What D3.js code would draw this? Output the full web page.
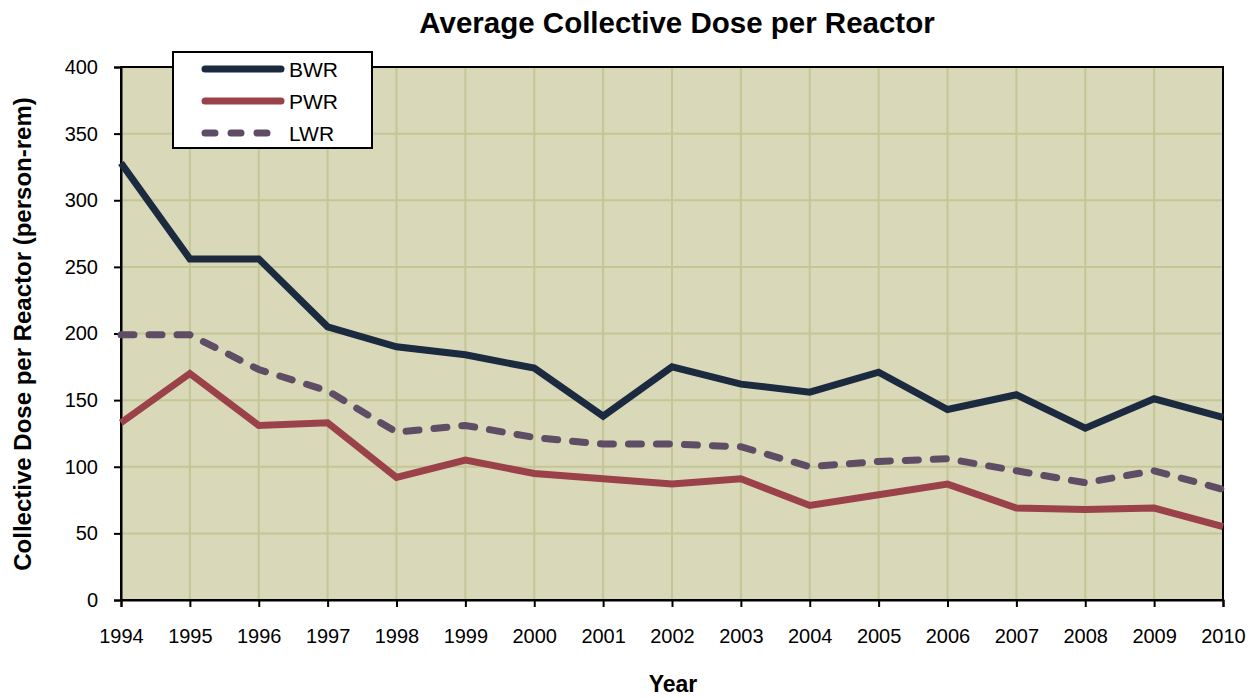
<!DOCTYPE html>
<html>
<head>
<meta charset="utf-8">
<script src="https://cdn.jsdelivr.net/npm/d3@7"></script>
<style>
  body { margin: 0; background: #fff; }
  text { font-family: "Liberation Sans", Arial, sans-serif; fill: #000; }
</style>
</head>
<body>
<svg id="chart"></svg>
<script>
var years = [1994,1995,1996,1997,1998,1999,2000,2001,2002,2003,2004,2005,2006,2007,2008,2009,2010];
var bwr = [328,256,256,205,190,184,174,138,175,162,156,171,143,154,129,151,137];
var pwr = [133,170,131,133,92,105,95,91,87,91,71,79,87,69,68,69,55];
var lwr = [199,199,173,157,126,131,122,117,117,115,100,104,106,97,88,97,83];
var yTicks = [0,50,100,150,200,250,300,350,400];

var series = [
  {name: 'BWR', values: bwr, color: '#1b2a3f', dash: null},
  {name: 'PWR', values: pwr, color: '#9a4149', dash: null},
  {name: 'LWR', values: lwr, color: '#5f4d66', dash: '13,15'}
];

var svg = d3.select('#chart').attr('width', 1256).attr('height', 698);

var mLeft = 121, mRight = 1223, mTop = 67, mBottom = 600;

var x = d3.scaleLinear().domain([1994, 2010]).range([mLeft, mRight]);
var y = d3.scaleLinear().domain([0, 400]).range([mBottom, mTop]);

// plot background
svg.append('rect')
   .attr('x', mLeft).attr('y', mTop)
   .attr('width', mRight - mLeft).attr('height', mBottom - mTop)
   .attr('fill', '#d9d9b9');

// grid
svg.append('g').selectAll('line').data(years.slice(1))
   .join('line')
   .attr('x1', d => x(d)).attr('x2', d => x(d))
   .attr('y1', mTop).attr('y2', mBottom)
   .attr('stroke', '#c3c695').attr('stroke-width', 2);
svg.append('g').selectAll('line').data(yTicks.slice(1))
   .join('line')
   .attr('x1', mLeft).attr('x2', mRight)
   .attr('y1', d => y(d)).attr('y2', d => y(d))
   .attr('stroke', '#c3c695').attr('stroke-width', 2);

// frame
svg.append('rect')
   .attr('x', mLeft).attr('y', mTop)
   .attr('width', mRight - mLeft).attr('height', mBottom - mTop)
   .attr('fill', 'none').attr('stroke', '#000').attr('stroke-width', 2);

var yAxis = d3.axisLeft(y).tickValues(yTicks).tickSize(7).tickPadding(16);
var gy = svg.append('g').attr('transform', 'translate(' + mLeft + ',0)').call(yAxis);
gy.select('.domain').attr('stroke-width', 2);
gy.selectAll('.tick line').attr('stroke-width', 2);
gy.selectAll('text').style('font-size', '20px');

var xAxis = d3.axisBottom(x).tickValues(years).tickFormat(d3.format('d')).tickSize(7).tickPadding(22);
var gx = svg.append('g').attr('transform', 'translate(0,' + mBottom + ')').call(xAxis);
gx.select('.domain').attr('stroke-width', 2);
gx.selectAll('.tick line').attr('stroke-width', 2);
gx.selectAll('text').style('font-size', '20px');

// lines
var line = d3.line().x((d, i) => x(years[i])).y(d => y(d));
svg.append('g').selectAll('path').data(series.slice().reverse())
   .join('path')
   .attr('d', d => line(d.values))
   .attr('fill', 'none')
   .attr('stroke', d => d.color)
   .attr('stroke-width', 7)
   .attr('stroke-dasharray', d => d.dash)
   .attr('stroke-linecap', d => d.dash ? 'round' : 'butt')
   .attr('stroke-linejoin', 'miter');

// titles
svg.append('text')
   .attr('x', 677).attr('y', 33)
   .attr('text-anchor', 'middle')
   .style('font-size', '29.5px').style('font-weight', 'bold')
   .text('Average Collective Dose per Reactor');

svg.append('text')
   .attr('x', 673).attr('y', 692)
   .attr('text-anchor', 'middle')
   .style('font-size', '23px').style('font-weight', 'bold')
   .text('Year');

svg.append('text')
   .attr('transform', 'translate(31,334) rotate(-90)')
   .attr('text-anchor', 'middle')
   .style('font-size', '24px').style('font-weight', 'bold')
   .text('Collective Dose per Reactor (person-rem)');

// legend
var legend = svg.append('g');
legend.append('rect')
   .attr('x', 173).attr('y', 52).attr('width', 199).attr('height', 96)
   .attr('fill', '#fff').attr('stroke', '#000').attr('stroke-width', 2);
var rows = legend.selectAll('g').data(series).join('g')
   .attr('transform', (d, i) => 'translate(0,' + (69 + i * 32) + ')');
rows.append('line')
   .attr('x1', 205).attr('x2', 281)
   .attr('stroke', d => d.color)
   .attr('stroke-width', 7)
   .attr('stroke-linecap', 'round')
   .attr('stroke-dasharray', d => d.dash ? '10,16' : null);
rows.append('text')
   .attr('x', 289).attr('y', 8)
   .style('font-size', '21px')
   .text(d => d.name);
</script>
</body>
</html>
